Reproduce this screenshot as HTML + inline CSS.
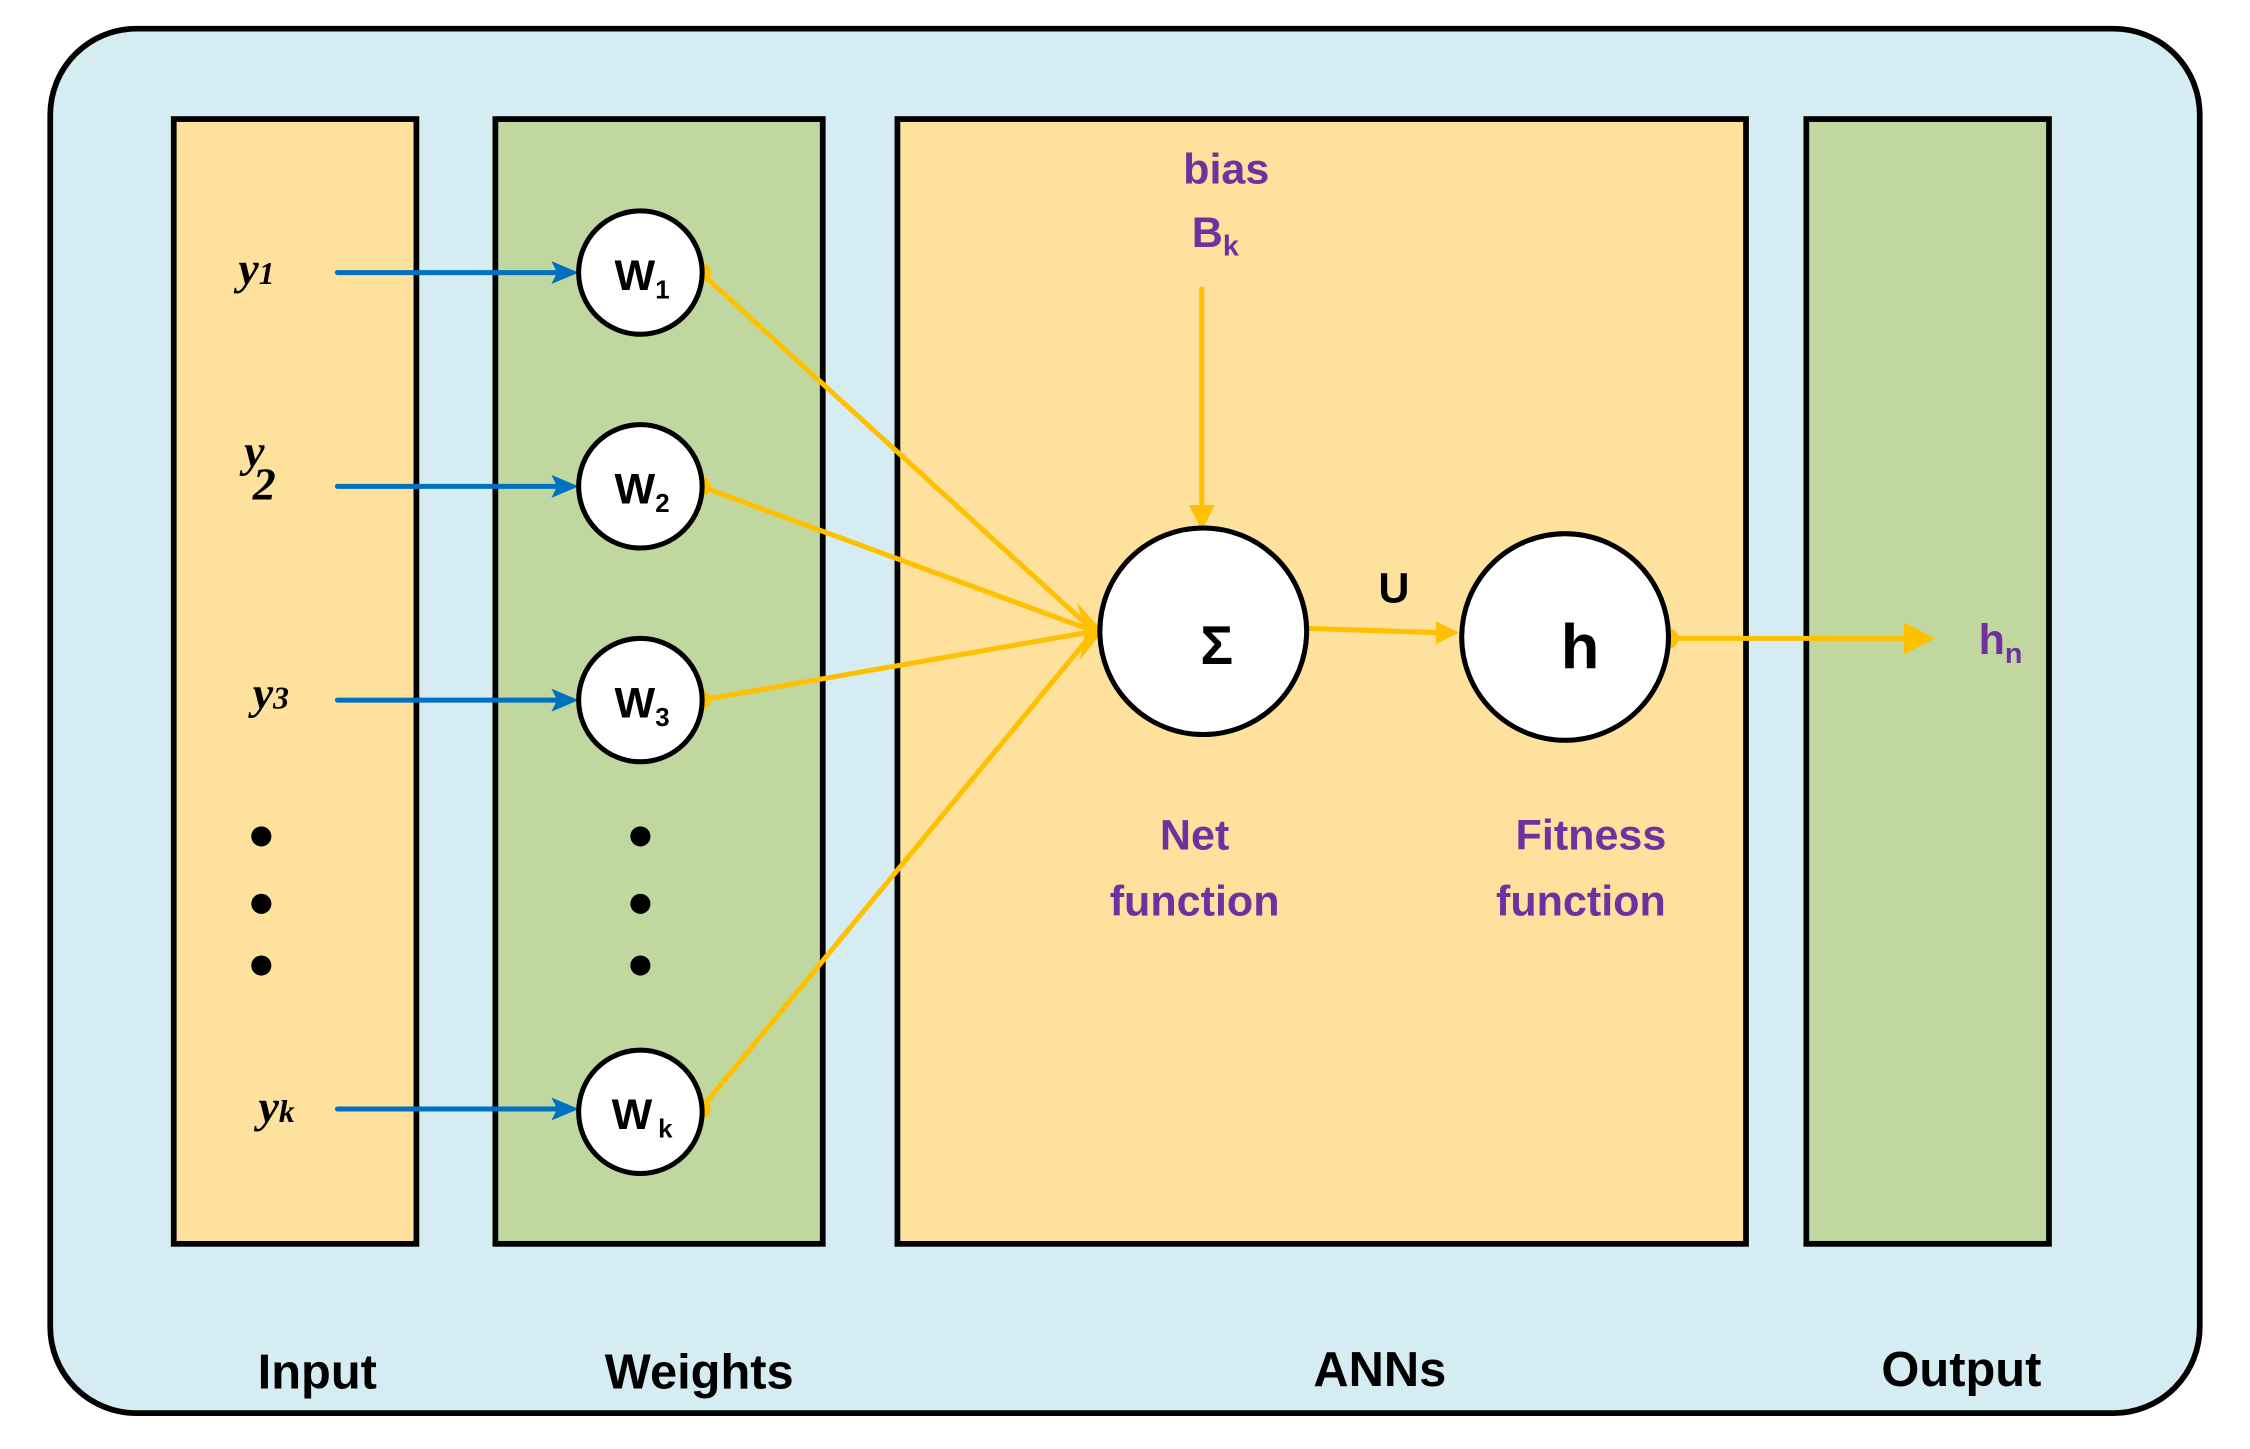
<!DOCTYPE html>
<html><head><meta charset="utf-8"><style>
html,body{margin:0;padding:0;background:#fff;width:2250px;height:1449px;overflow:hidden}
svg{display:block}
.b{font-family:"Liberation Sans",sans-serif;font-weight:bold}
.y{font-family:"Liberation Serif",serif;font-style:italic;font-weight:bold;font-size:32px}
.p{fill:#7030a0}
</style></head><body>
<svg width="2250" height="1449" viewBox="0 0 1567 1010" preserveAspectRatio="none" xmlns="http://www.w3.org/2000/svg">
<rect x="35" y="20" width="1497" height="965" rx="60" fill="#d5edf2" stroke="#000" stroke-width="4"/>
<rect x="121" y="83" width="169" height="784" fill="#fde19d" stroke="#000" stroke-width="4"/>
<rect x="345" y="83" width="228" height="784" fill="#c0d89f" stroke="#000" stroke-width="4"/>
<rect x="625" y="83" width="591" height="784" fill="#fde19d" stroke="#000" stroke-width="4"/>
<rect x="1258" y="83" width="169" height="784" fill="#c0d89f" stroke="#000" stroke-width="4"/>

<g stroke="#0070c0" stroke-width="3.5" fill="none" stroke-linecap="round">
<line x1="235" y1="190" x2="392" y2="190"/>
<line x1="235" y1="339" x2="392" y2="339"/>
<line x1="235" y1="488" x2="392" y2="488"/>
<line x1="235" y1="773" x2="392" y2="773"/>
</g>
<g fill="#0070c0">
<path d="M384,182 L403,190 L384,198 L388,190Z"/>
<path d="M384,331 L403,339 L384,347 L388,339Z"/>
<path d="M384,480 L403,488 L384,496 L388,488Z"/>
<path d="M384,765 L403,773 L384,781 L388,773Z"/>
</g>

<g stroke="#ffc000" stroke-width="3.5" fill="none">
<line x1="488" y1="190" x2="762" y2="440"/>
<line x1="488" y1="339" x2="762" y2="440"/>
<line x1="488" y1="488" x2="762" y2="440"/>
<line x1="488" y1="773" x2="762" y2="440"/>
<line x1="837" y1="200" x2="837" y2="355"/>
<line x1="910" y1="438" x2="1003" y2="441"/>
<line x1="1162" y1="445" x2="1330" y2="445"/>
</g>
<g fill="#ffc000">
<path d="M750,420 L768,440 L752,460 L756,440Z"/>
<path d="M828,352 L837,370 L846,352Z"/>
<path d="M1000,433 L1016,441 L1000,449Z"/>
<path d="M1326,434 L1348,445 L1326,456Z"/>
<circle cx="488" cy="190" r="7"/><circle cx="488" cy="339" r="7"/>
<circle cx="488" cy="488" r="7"/><circle cx="488" cy="773" r="7"/>
<circle cx="1162" cy="445" r="7"/>
</g>

<g fill="#fff" stroke="#000" stroke-width="3.5">
<circle cx="446" cy="190" r="43"/><circle cx="446" cy="339" r="43"/>
<circle cx="446" cy="488" r="43"/><circle cx="446" cy="775" r="43"/>
<circle cx="838" cy="440" r="72"/><circle cx="1090" cy="444" r="72"/>
</g>
<g class="b" font-size="30">
<text x="428" y="202">W<tspan font-size="18" dy="6">1</tspan></text>
<text x="428" y="351">W<tspan font-size="18" dy="6">2</tspan></text>
<text x="428" y="500">W<tspan font-size="18" dy="6">3</tspan></text>
<text x="426" y="787">W<tspan font-size="18" dx="4" dy="6">k</tspan></text>
<text x="836" y="463" font-size="38">Σ</text>
<text x="1087" y="466" font-size="44">h</text>
<text x="960" y="420" font-size="30">U</text>
</g>

<text class="y" x="166" y="198">y<tspan font-size="22">1</tspan></text>
<text class="y" x="170" y="325">y</text><text class="y" x="176" y="348" font-size="22">2</text>
<text class="y" x="176" y="494">y<tspan font-size="22">3</tspan></text>
<text class="y" x="180" y="782">y<tspan font-size="22">k</tspan></text>

<g fill="#000">
<circle cx="182" cy="583" r="7"/><circle cx="182" cy="630" r="7"/><circle cx="182" cy="673" r="7"/>
<circle cx="446" cy="583" r="7"/><circle cx="446" cy="630" r="7"/><circle cx="446" cy="673" r="7"/>
</g>

<g class="b p" font-size="30">
<text x="854" y="128" text-anchor="middle">bias</text>
<text x="830" y="172">B<tspan font-size="20" dy="6">k</tspan></text>
<text x="832" y="592" text-anchor="middle">Net</text>
<text x="832" y="638" text-anchor="middle">function</text>
<text x="1108" y="592" text-anchor="middle">Fitness</text>
<text x="1101" y="638" text-anchor="middle">function</text>
<text x="1378" y="456">h<tspan font-size="20" dy="6">n</tspan></text>
</g>

<g class="b" font-size="34" text-anchor="middle">
<text x="221" y="968">Input</text>
<text x="487" y="968">Weights</text>
<text x="961" y="966">ANNs</text>
<text x="1366" y="966">Output</text>
</g>
</svg>
</body></html>
